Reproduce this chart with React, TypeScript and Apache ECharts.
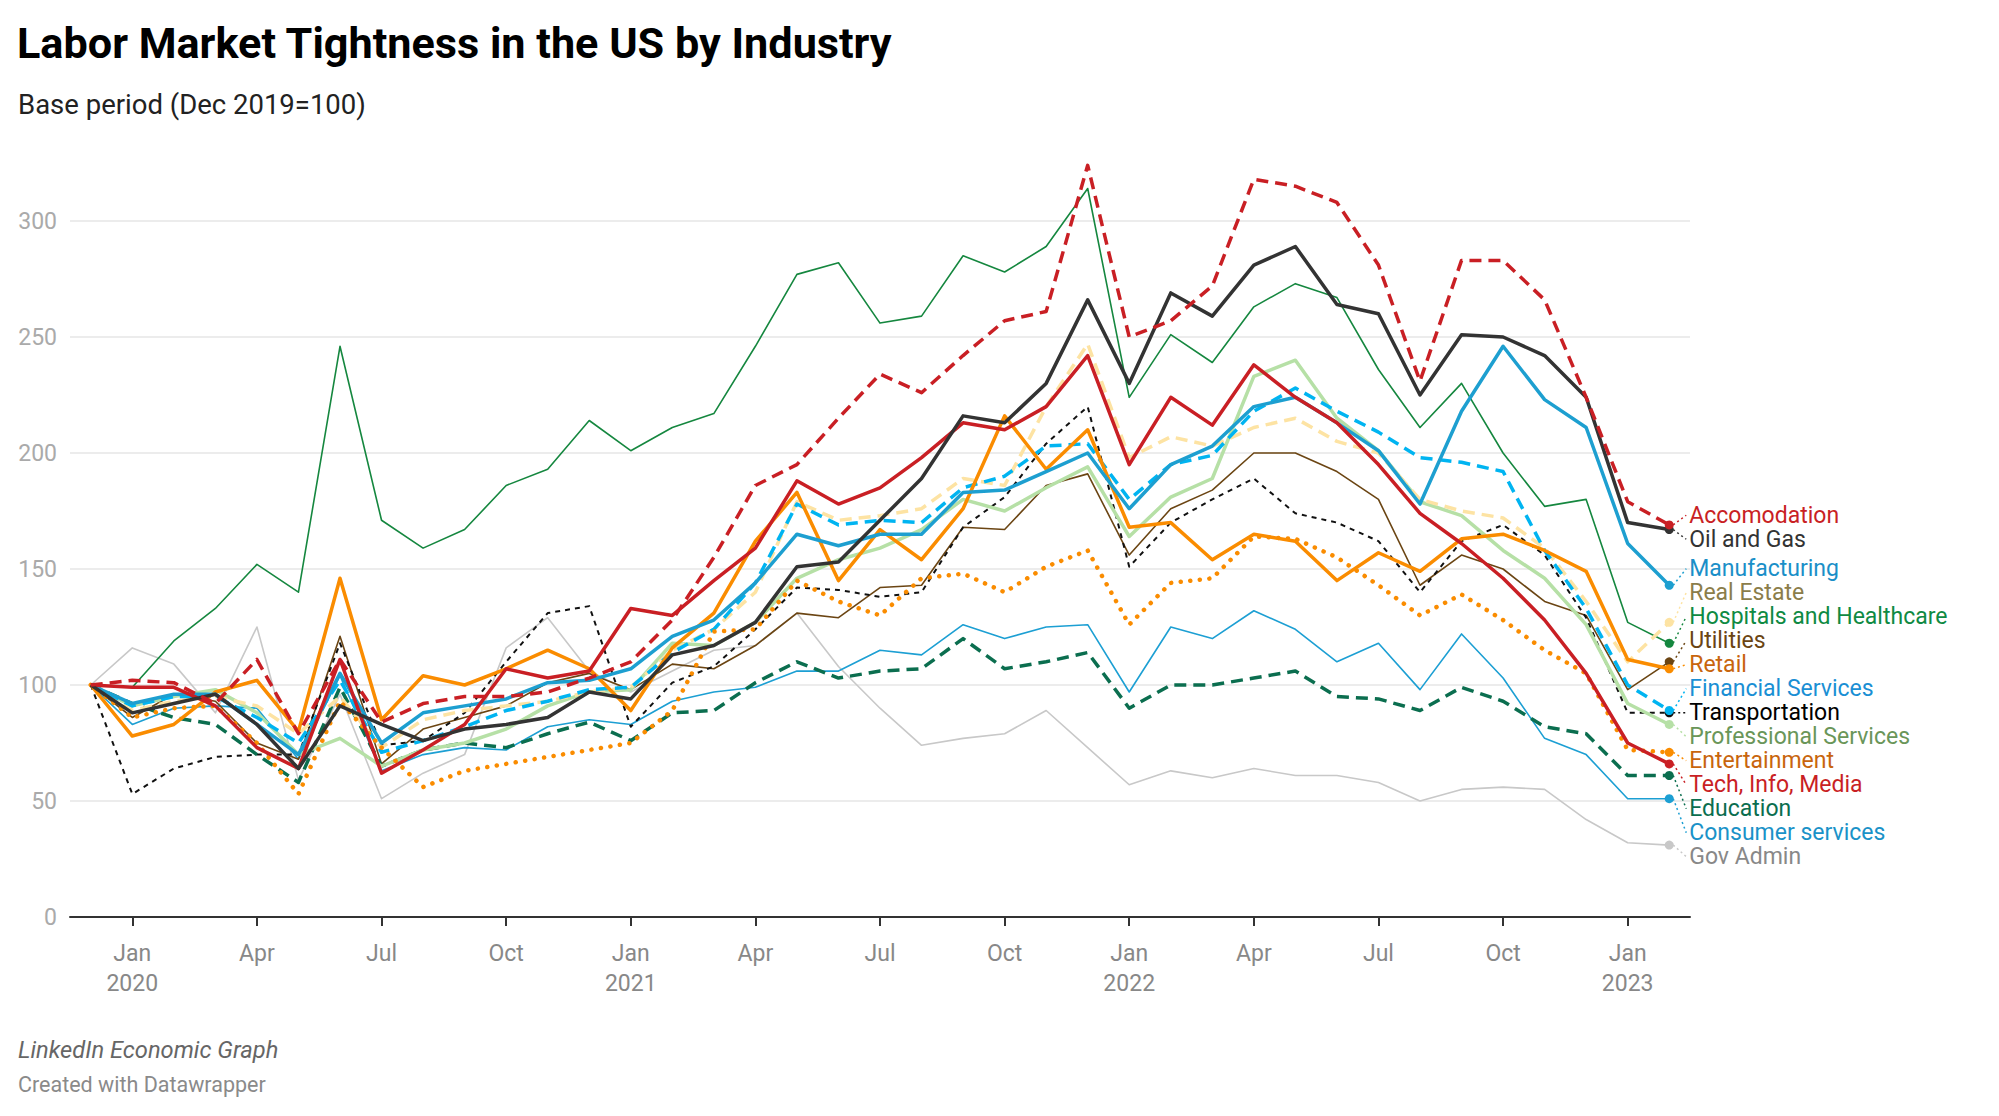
import { useEffect, useRef } from 'react'
import * as echarts from 'echarts'

// Monthly index, Dec 2019 = 100
const months = [
  'Dec 2019',
  'Jan 2020', 'Feb 2020', 'Mar 2020', 'Apr 2020', 'May 2020', 'Jun 2020',
  'Jul 2020', 'Aug 2020', 'Sep 2020', 'Oct 2020', 'Nov 2020', 'Dec 2020',
  'Jan 2021', 'Feb 2021', 'Mar 2021', 'Apr 2021', 'May 2021', 'Jun 2021',
  'Jul 2021', 'Aug 2021', 'Sep 2021', 'Oct 2021', 'Nov 2021', 'Dec 2021',
  'Jan 2022', 'Feb 2022', 'Mar 2022', 'Apr 2022', 'May 2022', 'Jun 2022',
  'Jul 2022', 'Aug 2022', 'Sep 2022', 'Oct 2022', 'Nov 2022', 'Dec 2022',
  'Jan 2023', 'Feb 2023',
]

const accomodation = [100, 102, 101, 92, 111, 79, 111, 84, 92, 95, 95, 97, 103, 110, 128, 155, 186, 195, 215, 234, 226, 242, 257, 261, 324, 250, 257, 272, 318, 315, 308, 281, 231, 283, 283, 266, 224, 179, 169]
const oilAndGas = [100, 88, 92, 96, 83, 64, 91, 83, 76, 81, 83, 86, 97, 94, 113, 117, 127, 151, 153, 171, 189, 216, 213, 230, 266, 230, 269, 259, 281, 289, 264, 260, 225, 251, 250, 242, 224, 170, 167]
const manufacturing = [100, 92, 96, 96, 83, 70, 105, 75, 88, 91, 94, 101, 102, 107, 121, 128, 144, 165, 160, 165, 165, 183, 184, 192, 200, 176, 195, 203, 220, 224, 213, 201, 178, 218, 246, 223, 211, 161, 143]
const realEstate = [100, 89, 93, 95, 91, 79, 95, 73, 85, 89, 91, 93, 97, 99, 115, 124, 140, 179, 171, 173, 176, 189, 186, 220, 247, 198, 207, 203, 211, 215, 205, 200, 180, 175, 172, 159, 136, 110, 127]
const hospitals = [100, 99, 119, 133, 152, 140, 246, 171, 159, 167, 186, 193, 214, 201, 211, 217, 246, 277, 282, 256, 259, 285, 278, 289, 314, 224, 251, 239, 263, 273, 267, 236, 211, 230, 200, 177, 180, 127, 118]
const utilities = [100, 86, 96, 93, 75, 68, 121, 66, 81, 86, 91, 101, 105, 98, 109, 107, 117, 131, 129, 142, 143, 168, 167, 186, 191, 156, 176, 184, 200, 200, 192, 180, 143, 156, 150, 136, 130, 98, 110]
const retail = [100, 78, 83, 97, 102, 80, 146, 85, 104, 100, 107, 115, 107, 89, 116, 131, 162, 183, 145, 167, 154, 176, 216, 193, 210, 168, 170, 154, 165, 162, 145, 157, 149, 163, 165, 158, 149, 111, 107]
const financialServices = [100, 91, 95, 95, 86, 75, 102, 71, 76, 82, 89, 93, 98, 99, 114, 124, 144, 178, 169, 171, 170, 185, 190, 203, 204, 180, 195, 199, 218, 228, 218, 209, 198, 196, 192, 158, 133, 100, 89]
const transportation = [100, 53, 64, 69, 70, 70, 118, 74, 76, 88, 110, 131, 134, 82, 101, 108, 124, 142, 141, 138, 140, 168, 181, 204, 220, 151, 170, 180, 189, 174, 170, 162, 140, 162, 169, 156, 129, 88, 88]
const professionalServices = [100, 91, 95, 98, 88, 70, 77, 65, 72, 75, 81, 91, 97, 98, 118, 117, 127, 146, 154, 159, 167, 180, 175, 185, 194, 164, 181, 189, 233, 240, 215, 201, 179, 173, 158, 146, 126, 92, 83]
const entertainment = [100, 86, 90, 91, 75, 53, 93, 73, 56, 63, 66, 69, 72, 75, 89, 123, 124, 145, 136, 130, 146, 148, 140, 151, 158, 126, 144, 146, 164, 163, 155, 143, 130, 139, 128, 115, 105, 72, 71]
const techInfoMedia = [100, 99, 99, 91, 73, 64, 111, 62, 72, 83, 107, 103, 106, 133, 130, 145, 159, 188, 178, 185, 198, 213, 210, 220, 242, 195, 224, 212, 238, 224, 213, 195, 174, 161, 146, 128, 105, 75, 66]
const education = [100, 92, 86, 83, 70, 58, 99, 65, 72, 75, 73, 79, 84, 76, 88, 89, 101, 110, 103, 106, 107, 120, 107, 110, 114, 90, 100, 100, 103, 106, 95, 94, 89, 99, 93, 82, 79, 61, 61]
const consumerServices = [100, 83, 90, 91, 90, 68, 104, 63, 70, 73, 72, 82, 85, 83, 93, 97, 99, 106, 106, 115, 113, 126, 120, 125, 126, 97, 125, 120, 132, 124, 110, 118, 98, 122, 103, 77, 70, 51, 51]
const govAdmin = [100, 116, 109, 88, 125, 59, 96, 51, 62, 70, 116, 129, 106, 97, 106, 115, 117, 131, 108, 90, 74, 77, 79, 89, 73, 57, 63, 60, 64, 61, 61, 58, 50, 55, 56, 55, 42, 32, 31]

const yTicks = [0, 50, 100, 150, 200, 250, 300]

type Industry = {
  name: string
  data: number[]
  color: string
  labelColor: string
  width: number
  dash?: number[]
  cap?: 'round' | 'butt'
}

// drawn in this order, the last one on top
const industries: Industry[] = [
  { name: 'Gov Admin', data: govAdmin, color: '#c8c8c8', labelColor: '#888888', width: 1.6 },
  { name: 'Consumer services', data: consumerServices, color: '#1c9fd3', labelColor: '#1a92c8', width: 1.6 },
  { name: 'Hospitals and Healthcare', data: hospitals, color: '#15873f', labelColor: '#0f8a43', width: 1.6 },
  { name: 'Utilities', data: utilities, color: '#6b4513', labelColor: '#6b4513', width: 1.6 },
  { name: 'Transportation', data: transportation, color: '#111111', labelColor: '#000000', width: 2, dash: [5, 5] },
  { name: 'Education', data: education, color: '#0b6e4f', labelColor: '#0b6e4f', width: 3.5, dash: [12, 7] },
  { name: 'Professional Services', data: professionalServices, color: '#b6e0a6', labelColor: '#6a9659', width: 3.5 },
  { name: 'Real Estate', data: realEstate, color: '#fde3a3', labelColor: '#8b7d4a', width: 3.5, dash: [12, 7] },
  { name: 'Financial Services', data: financialServices, color: '#00b4f1', labelColor: '#1a8fd4', width: 3.5, dash: [12, 7] },
  { name: 'Entertainment', data: entertainment, color: '#fa8c00', labelColor: '#c8650d', width: 4.5, dash: [0.1, 9.5], cap: 'round' },
  { name: 'Retail', data: retail, color: '#fa8c00', labelColor: '#c8650d', width: 3.5 },
  { name: 'Manufacturing', data: manufacturing, color: '#1d9fd0', labelColor: '#1a8fc8', width: 3.5 },
  { name: 'Tech, Info, Media', data: techInfoMedia, color: '#c91f24', labelColor: '#c91f24', width: 3.5 },
  { name: 'Oil and Gas', data: oilAndGas, color: '#333333', labelColor: '#333333', width: 3.5 },
  { name: 'Accomodation', data: accomodation, color: '#c91f24', labelColor: '#c91f24', width: 3.5, dash: [12, 7] },
]

const FONT = 'Roboto, "Noto Sans", sans-serif'
const LABEL_GAP = 24

// push end labels apart so they do not overlap, keeping clusters centred on their points
function spreadLabels(ys: number[], gap: number): number[] {
  const order = ys.map((_, i) => i).sort((a, b) => ys[a] - ys[b])
  const clusters = order.map((i) => ({ idx: [i], center: ys[i] }))
  let changed = true
  while (changed) {
    changed = false
    for (let k = 0; k < clusters.length - 1; k++) {
      const a = clusters[k]
      const b = clusters[k + 1]
      const aEnd = a.center + ((a.idx.length - 1) * gap) / 2
      const bStart = b.center - ((b.idx.length - 1) * gap) / 2
      if (bStart - aEnd < gap) {
        const idx = a.idx.concat(b.idx)
        const center = idx.reduce((s, i) => s + ys[i], 0) / idx.length
        clusters.splice(k, 2, { idx, center })
        changed = true
        break
      }
    }
  }
  const out: number[] = new Array(ys.length)
  clusters.forEach((c) => {
    c.idx.forEach((i, j) => {
      out[i] = c.center - ((c.idx.length - 1) * gap) / 2 + j * gap
    })
  })
  return out
}

const monthLabel = (value: string) => {
  const [m, y] = value.split(' ')
  return m === 'Jan' ? `Jan\n${y}` : m
}

const isQuarterTick = (index: number) => index % 3 === 1

const App = () => {
  const chartRef = useRef<HTMLDivElement>(null)

  useEffect(() => {
    if (!chartRef.current) return
    const chart = echarts.init(chartRef.current, null, { renderer: 'svg' })

    chart.setOption({
      animation: false,
      backgroundColor: '#ffffff',
      textStyle: { fontFamily: FONT },
      title: [
        {
          text: 'Labor Market Tightness in the US by Industry',
          left: 12,
          top: 17,
          textStyle: { fontFamily: FONT, fontWeight: 'bold', fontSize: 43.2, color: '#000000' },
        },
        {
          text: 'Base period (Dec 2019=100)',
          left: 13,
          top: 85,
          textStyle: { fontFamily: FONT, fontWeight: 'normal', fontSize: 27.5, color: '#222222' },
        },
        {
          text: 'LinkedIn Economic Graph',
          left: 13,
          top: 1033,
          textStyle: { fontFamily: FONT, fontWeight: 'normal', fontStyle: 'italic', fontSize: 23.7, color: '#666666' },
        },
        {
          text: 'Created with Datawrapper',
          left: 13,
          top: 1068,
          textStyle: { fontFamily: FONT, fontWeight: 'normal', fontSize: 21.5, color: '#8a8a8a' },
        },
      ],
      grid: { left: 70, right: 309, top: 221, bottom: 199 },
      xAxis: {
        type: 'category',
        data: months,
        boundaryGap: true,
        axisLine: { show: true, lineStyle: { color: '#333333', width: 2 } },
        axisTick: {
          show: true,
          alignWithLabel: true,
          interval: isQuarterTick,
          length: 9,
          lineStyle: { color: '#333333', width: 2 },
        },
        axisLabel: {
          interval: isQuarterTick,
          formatter: monthLabel,
          color: '#888888',
          fontSize: 23,
          lineHeight: 30,
          margin: 21,
          fontFamily: FONT,
        },
        splitLine: { show: false },
      },
      yAxis: {
        type: 'value',
        min: yTicks[0],
        max: yTicks[yTicks.length - 1],
        interval: 50,
        axisLine: { show: false },
        axisTick: { show: false },
        axisLabel: { color: '#aaaaaa', fontSize: 23, margin: 13, fontFamily: FONT },
        splitLine: { show: true, lineStyle: { color: '#e6e6e6', width: 1.5 } },
      },
      series: industries.map((s) => ({
        name: s.name,
        type: 'line',
        data: s.data,
        symbol: 'none',
        clip: false,
        silent: true,
        smooth: false,
        lineStyle: {
          color: s.color,
          width: s.width,
          type: s.dash ?? 'solid',
          cap: s.cap ?? 'butt',
          join: 'round',
        },
        emphasis: { disabled: true },
      })),
    })

    // end dots, dotted leaders and direct labels on the right
    const last = months.length - 1
    const ends = industries.map((s, k) => chart.convertToPixel({ seriesIndex: k }, [last, s.data[last]]) as number[])
    const labelYs = spreadLabels(ends.map((p) => p[1]), LABEL_GAP)
    const graphic: any[] = []
    industries.forEach((s, k) => {
      const [x, y] = ends[k]
      const lx = x + 20
      const ly = labelYs[k]
      graphic.push({
        type: 'line',
        silent: true,
        shape: { x1: x + 4, y1: y, x2: lx - 3, y2: ly },
        style: { stroke: s.color, lineWidth: 1.5, lineDash: [2, 3] },
      })
      graphic.push({
        type: 'circle',
        silent: true,
        shape: { cx: x, cy: y, r: 4.5 },
        style: { fill: s.color },
        z: 10,
      })
      graphic.push({
        type: 'text',
        silent: true,
        x: lx,
        y: ly,
        style: {
          text: s.name,
          fill: s.labelColor,
          fontSize: 23,
          lineHeight: LABEL_GAP,
          fontFamily: FONT,
          align: 'left',
          verticalAlign: 'middle',
        },
      })
    })
    chart.setOption({ graphic })

    return () => {
      chart.dispose()
    }
  }, [])

  return (
    <div
      ref={chartRef}
      style={{ position: 'absolute', left: 0, top: 0, width: 1999, height: 1116, background: '#ffffff' }}
    />
  )
}

export default App
